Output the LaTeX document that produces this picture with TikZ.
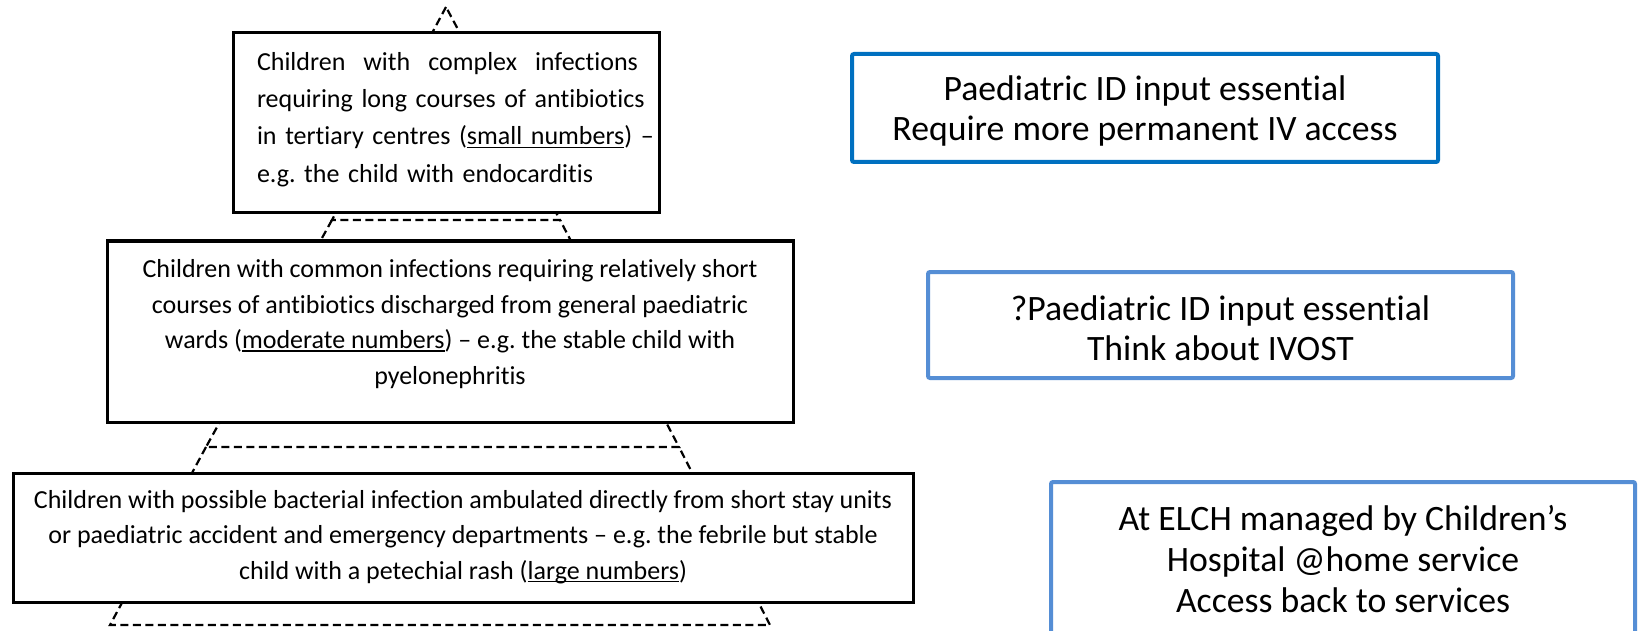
\documentclass[tikz,border=0pt]{standalone}
\usepackage{fontspec}
\setmainfont{Carlito}[Ligatures=NoCommon]
\frenchspacing
\definecolor{blueA}{RGB}{0,112,192}
\definecolor{blueB}{RGB}{85,142,213}
\newcommand\myul[1]{\setbox0=\hbox{#1}\rlap{\raisebox{-3pt}[0pt][0pt]{\rule{\wd0}{1.4pt}}}\box0}
\newcommand\fullline[1]{\leavevmode\hbox to 381pt{#1}}
\tikzset{
  pyr/.style={draw=black, line width=2.2pt, dash pattern=on 8pt off 4.5pt},
  lbox/.style={draw=black, line width=3pt, fill=white, inner sep=0pt},
  bbox/.style={line width=4pt, fill=white, rounded corners=2pt, inner sep=0pt},
  ltxt/.style={font=\fontsize{26}{36.5}\selectfont, inner sep=0pt, align=center},
  rtxt/.style={font=\fontsize{35.7}{40}\selectfont, inner sep=0pt, align=center},
}
\begin{document}
\begin{tikzpicture}[x=1pt,y=-1pt]
\fill[white] (0,0) rectangle (1641,631);
\useasboundingbox (0,0) rectangle (1641,631);
% dashed pyramid
\coordinate (apex) at (446,7);
\coordinate (l1) at (332,220); \coordinate (r1) at (560,220);
\coordinate (l2) at (206,447); \coordinate (r2) at (679,447);
\coordinate (l3) at (110,625); \coordinate (r3) at (770,625);
\draw[pyr] (apex) -- (l1) -- (r1) -- cycle;
\draw[pyr] (l1) -- (l2) -- (r2) -- (r1);
\draw[pyr] (l2) -- (l3) -- (r3) -- (r2);
% left boxes
\node[lbox, minimum width=426pt, minimum height=180pt] (topbox) at (446,123) {};
\node[lbox, minimum width=686pt, minimum height=181pt] (midbox) at (450,331.5) {};
\node[lbox, minimum width=900pt, minimum height=129pt] (botbox) at (463,537.5) {};
\node[ltxt, align=left, text width=381pt, font=\fontsize{26}{37.3}\selectfont] (toptext) at (447.5,119.5) {%
\fullline{Children\hfil\ with\hfil\ complex\hfil\ infections}\\
\fullline{requiring\hfil\ long\hfil\ courses\hfil\ of\hfil\ antibiotics}\\
\fullline{in\hfil\ tertiary\hfil\ centres\hfil\ (\myul{small numbers})\hfil\ –}\\
e.g. the child with endocarditis};
\node[ltxt, font=\fontsize{26}{35.7}\selectfont] (midtext) at (450,324) {%
Children with common infections requiring relatively short\\
courses of antibiotics discharged from general paediatric\\
wards (\myul{moderate numbers}) – e.g. the stable child with\\
pyelonephritis};
\node[ltxt, font=\fontsize{26}{35.5}\selectfont] (bottext) at (463,537) {%
Children with possible bacterial infection ambulated directly from short stay units\\
or paediatric accident and emergency departments – e.g. the febrile but stable\\
child with a petechial rash (\myul{large numbers})};
% right boxes
\node[bbox, draw=blueA, minimum width=586pt, minimum height=108pt] (box1) at (1145,108) {};
\node[bbox, draw=blueB, minimum width=585pt, minimum height=106pt] (box2) at (1220.5,325) {};
\node[bbox, draw=blueB, minimum width=584pt, minimum height=198pt] (box3) at (1343,581) {};
\node[rtxt] (text1) at (1145,110.5) {Paediatric ID input essential\\Require more permanent IV access};
\node[rtxt] (text2) at (1220.5,328) {?Paediatric ID input essential\\Think about IVOST};
\node[rtxt, font=\fontsize{35.7}{41}\selectfont] (text3) at (1343,559.5) {At ELCH managed by Children’s\\Hospital @home service\\Access back to services};
\end{tikzpicture}
\end{document}
